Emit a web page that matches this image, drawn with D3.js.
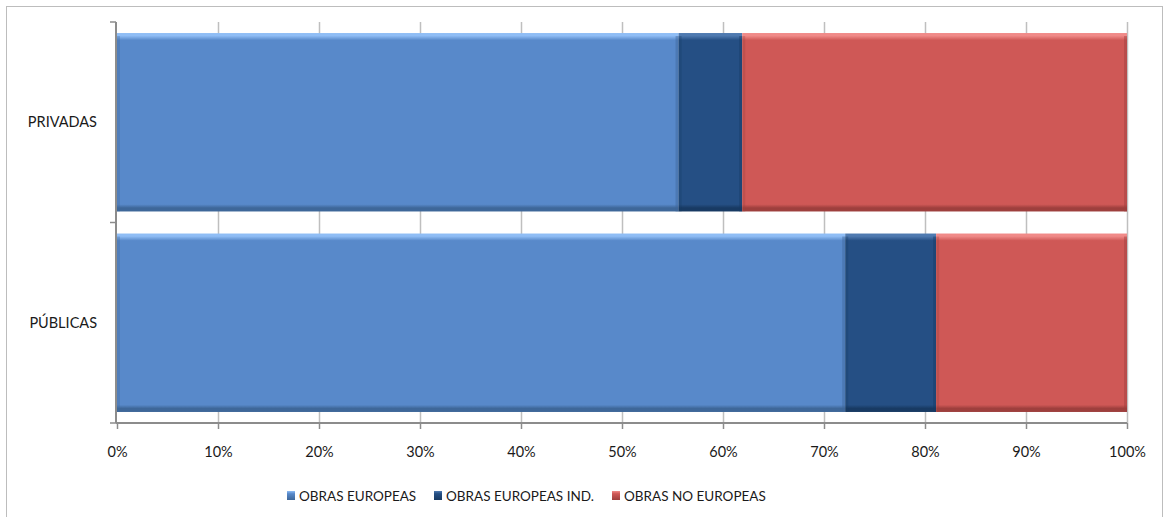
<!DOCTYPE html>
<html><head><meta charset="utf-8">
<script src="https://cdn.jsdelivr.net/npm/d3@7"></script>
<style>body{margin:0;background:#fff}svg{display:block}text{font-family:Lato,"Open Sans",sans-serif;fill:#1a1a1a}</style>
</head><body><svg id="c" width="1167" height="517"></svg>
<script>
const categories = ["PRIVADAS", "PÚBLICAS"];
const seriesNames = ["OBRAS EUROPEAS", "OBRAS EUROPEAS IND.", "OBRAS NO EUROPEAS"];
const europeas = [55.6, 72.1];
const europeasInd = [6.3, 9.0];
const noEuropeas = [38.1, 18.9];
const tickValues = [0, 10, 20, 30, 40, 50, 60, 70, 80, 90, 100];
const colors = ["#5889CA", "#254F84", "#CF5856"];
const light = ["#8FBDF5", "#4F7AB0", "#F08A88"];
const dark = ["#3E6799", "#183A63", "#9E3F3D"];

const svg = d3.select("#c");
svg.append("rect").attr("x",6.5).attr("y",6.5).attr("width",1156).attr("height",520).attr("fill","#fff").attr("stroke","#BDBDBD");

const m = {l:116, r:1127, t:22, b:423};
const x = d3.scaleLinear().domain([0,100]).range([m.l+1, m.r]);
const y = d3.scaleBand().domain(categories).range([m.t, m.b]).paddingInner(0.11).paddingOuter(0.055);

const defs = svg.append("defs");
colors.forEach((c,i)=>{
  const g = defs.append("linearGradient").attr("id","g"+i).attr("x1",0).attr("y1",0).attr("x2",0).attr("y2",1);
  g.append("stop").attr("offset","0%").attr("stop-color",light[i]);
  g.append("stop").attr("offset","1.5%").attr("stop-color",light[i]);
  g.append("stop").attr("offset","4%").attr("stop-color",c);
  g.append("stop").attr("offset","96%").attr("stop-color",c);
  g.append("stop").attr("offset","98%").attr("stop-color",dark[i]);
  g.append("stop").attr("offset","100%").attr("stop-color",dark[i]);
  const lg = defs.append("linearGradient").attr("id","lg"+i).attr("x1",0).attr("y1",0).attr("x2",0).attr("y2",1);
  lg.append("stop").attr("offset","0%").attr("stop-color",light[i]);
  lg.append("stop").attr("offset","30%").attr("stop-color",c);
  lg.append("stop").attr("offset","100%").attr("stop-color",dark[i]);
});

// gridlines
svg.append("g").selectAll("line").data(tickValues.slice(1)).join("line")
  .attr("x1",d=>Math.round(x(d))+0.5).attr("x2",d=>Math.round(x(d))+0.5)
  .attr("y1",m.t).attr("y2",m.b).attr("stroke","#BFBFBF").attr("stroke-width",1.5);

// stack
const rows = categories.map((c,i)=>({cat:c, a:europeas[i], b:europeasInd[i], n:noEuropeas[i]}));
const stack = d3.stack().keys(["a","b","n"])(rows);
stack.forEach((layer,si)=>{
  const g = svg.append("g");
  g.selectAll("rect").data(layer).join("rect")
    .attr("x",d=>x(d[0])).attr("width",d=>x(d[1])-x(d[0]))
    .attr("y",d=>y(d.data.cat)).attr("height",y.bandwidth())
    .attr("fill","url(#g"+si+")");
  g.selectAll("rect.s").data(layer).join("rect").attr("class","s")
    .attr("x",d=>x(d[1])-3).attr("width",3)
    .attr("y",d=>y(d.data.cat)+3).attr("height",y.bandwidth()-3)
    .attr("fill",dark[si]).attr("opacity",0.45);
  g.selectAll("rect.l").data(layer).join("rect").attr("class","l")
    .attr("x",d=>x(d[0])).attr("width",3)
    .attr("y",d=>y(d.data.cat)+3).attr("height",y.bandwidth()-3)
    .attr("fill",dark[si]).attr("opacity",0.3);
});

// x axis
const xa = svg.append("g").attr("transform",`translate(0,${m.b})`)
  .call(d3.axisBottom(x).tickValues(tickValues).tickFormat(d=>d+"%").tickSize(6).tickSizeOuter(0));
xa.select(".domain").attr("stroke","#8C8C8C").attr("stroke-width",2).attr("d",`M${m.l},0H${m.r}`);
xa.selectAll(".tick line").attr("stroke","#8C8C8C").attr("stroke-width",1.5);
xa.selectAll(".tick text").attr("font-size",14.5).attr("y",24).attr("dy","0.71em").attr("fill","#1a1a1a").style("font-family","Lato,'Open Sans',sans-serif");

// y axis
const ya = svg.append("g").attr("transform",`translate(${m.l},0)`);
ya.append("line").attr("x1",0).attr("x2",0).attr("y1",m.t).attr("y2",m.b).attr("stroke","#8C8C8C").attr("stroke-width",2);
const yb = [m.t, (m.t+m.b)/2, m.b];
ya.selectAll("line.t").data(yb).join("line").attr("class","t")
  .attr("x1",-6).attr("x2",0).attr("y1",d=>d).attr("y2",d=>d).attr("stroke","#8C8C8C").attr("stroke-width",1.5);
ya.selectAll("text").data(categories).join("text")
  .attr("x",-19).attr("y",d=>y(d)+y.bandwidth()/2).attr("dy","0.35em")
  .attr("text-anchor","end").attr("font-size",14.5).text(d=>d);

// legend
const legX = [287, 434, 612];
const leg = svg.append("g");
seriesNames.forEach((s,i)=>{
  leg.append("rect").attr("x",legX[i]).attr("y",491).attr("width",8).attr("height",9).attr("fill","url(#lg"+i+")");
  leg.append("text").attr("x",legX[i]+12).attr("y",496).attr("dy","0.35em").attr("font-size",13.5).text(s);
});
</script></body></html>
